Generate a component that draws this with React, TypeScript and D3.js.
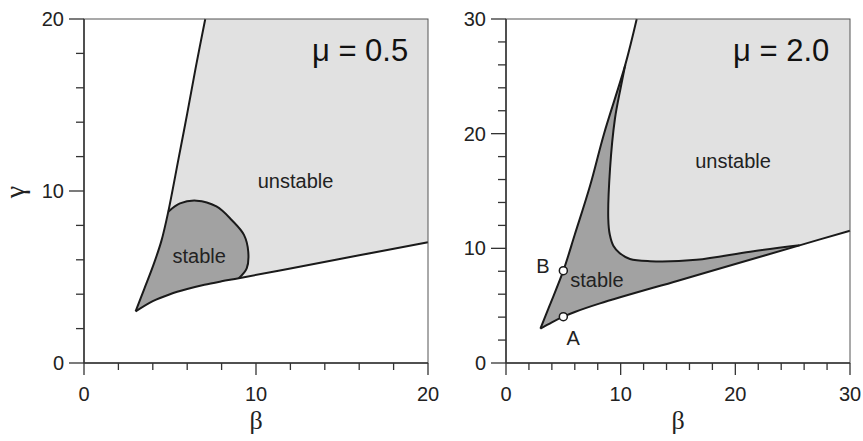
import React from 'react';
import * as d3 from 'd3';

type Pt = [number, number];

// left panel (mu = 0.5)
const leftEdgeLow: Pt[] = [[3, 3], [3.5, 4.3], [4, 5.6], [4.5, 7.1], [4.9, 8.8]];
const leftEdgeHigh: Pt[] = [[4.9, 8.8], [5.5, 11.9], [6, 14.5], [6.5, 17.2], [7.05, 20]];
const leftBottomLow: Pt[] = [[3, 3], [4, 3.6], [5, 4.0], [6, 4.3], [7, 4.55], [8, 4.75], [9.0, 4.93]];
const leftBottomHigh: Pt[] = [[9.0, 4.93], [12, 5.5], [16, 6.26], [20, 7.02]];
const leftLobe: Pt[] = [[4.9, 8.8], [5.58, 9.28], [6.55, 9.44], [7.7, 9.1], [8.6, 8.3], [9.3, 7.45], [9.55, 6.47], [9.46, 5.5], [9.0, 4.93]];

// right panel (mu = 2.0)
const rightEdgeLow: Pt[] = [[3, 3], [3.8, 5], [5, 8.05], [6, 11.2], [7.33, 15.46], [8.55, 20], [10.4, 26]];
const rightEdgeHigh: Pt[] = [[10.4, 26], [11.4, 30]];
const rightBottomLow: Pt[] = [[3, 3], [4, 3.55], [5, 4.04], [6, 4.45], [8.2, 5.2], [15, 7.18], [20, 8.63], [25.6, 10.26]];
const rightBottomHigh: Pt[] = [[25.6, 10.26], [30, 11.54]];
const rightInner: Pt[] = [[10.4, 26], [10.0, 24], [9.5, 21.3], [9.07, 16.9], [8.92, 12.56], [9.05, 11.2], [9.36, 10.23], [9.9, 9.6], [10.81, 9.07], [12.56, 8.88], [16.6, 9.0], [21.3, 9.71], [25.6, 10.26]];
const rightMarkers = [
  { name: 'B', p: [5, 8.05] as Pt },
  { name: 'A', p: [5, 4.04] as Pt },
];

const leftMajor = [0, 10, 20];
const rightMajor = [0, 10, 20, 30];

const LIGHT = '#e1e1e1';
const DARK = '#a2a2a2';
const INK = '#1a1a1a';
const SANS = "'Liberation Sans', Arial, Helvetica, sans-serif";
const SERIF = "'Liberation Serif', 'Times New Roman', serif";

function Panel({ left, max, major, children }: any) {
  const size = 344;
  const top = 19;
  const x = d3.scaleLinear().domain([0, max]).range([left, left + size]);
  const y = d3.scaleLinear().domain([0, max]).range([top + size, top]);
  const line = d3.line<Pt>().x(d => x(d[0])).y(d => y(d[1])).curve(d3.curveCatmullRom.alpha(0.5));
  const lin = d3.line<Pt>().x(d => x(d[0])).y(d => y(d[1]));
  // join smooth curve pieces and straight corner pieces into one closed shape
  const shape = (segs: any[]) =>
    segs.map((s, i) => {
      const d = Array.isArray(s) ? line(s)! : lin(s.corner)!;
      return i === 0 ? d : 'L' + d.slice(1);
    }).join('') + 'Z';
  const minor = d3.range(0, max + 0.001, 2);
  return (
    <g>
      {children({ x, y, line, shape })}
      <rect x={left} y={top} width={size} height={size} fill="none" stroke="#555" strokeWidth={1} />
      {/* y axis */}
      <line x1={left} x2={left} y1={top} y2={top + size} stroke="#333" strokeWidth={1.5} />
      {minor.map(t => (
        <line key={'ym' + t} x1={left - (major.includes(t) ? 15 : 8)} x2={left} y1={y(t)} y2={y(t)} stroke="#333" strokeWidth={1.3} />
      ))}
      {major.map((t: number) => (
        <text key={'yl' + t} x={left - 20} y={y(t) + 7} textAnchor="end" fontFamily={SANS} fontSize={20} fill="#222">{t}</text>
      ))}
      {/* x axis */}
      <line x1={left} x2={left + size} y1={top + size} y2={top + size} stroke="#333" strokeWidth={1.5} />
      {minor.map(t => (
        <line key={'xm' + t} x1={x(t)} x2={x(t)} y1={top + size} y2={top + size + (major.includes(t) ? 12 : 7)} stroke="#333" strokeWidth={1.3} />
      ))}
      {major.map((t: number) => (
        <text key={'xl' + t} x={x(t)} y={401} textAnchor="middle" fontFamily={SANS} fontSize={20} fill="#222">{t}</text>
      ))}
      <text x={left + size / 2} y={429} textAnchor="middle" fontFamily={SERIF} fontSize={26} fill="#222">β</text>
    </g>
  );
}

export default function App() {
  return (
    <svg width={863} height={441} style={{ position: 'absolute', left: 0, top: 0, background: '#fff' }}>
      <Panel left={84} max={20} major={leftMajor}>
        {({ x, y, line, shape }: any) => (
          <g>
            <path d={shape([leftEdgeLow, leftEdgeHigh, { corner: [[7.05, 20], [20, 20], [20, 7.02]] }, leftBottomHigh.slice().reverse(), leftBottomLow.slice().reverse()])} fill={LIGHT} />
            <path d={shape([leftEdgeLow, leftLobe, leftBottomLow.slice().reverse()])} fill={DARK} />
            <path d={line([...leftEdgeLow, ...leftEdgeHigh.slice(1)])} fill="none" stroke={INK} strokeWidth={2} />
            <path d={line([...leftBottomLow, ...leftBottomHigh.slice(1)])} fill="none" stroke={INK} strokeWidth={2} />
            <path d={line(leftLobe)} fill="none" stroke={INK} strokeWidth={2} />
            <text x={x(12.3)} y={y(10.2)} textAnchor="middle" fontFamily={SANS} fontSize={20} fill="#222">unstable</text>
            <text x={x(6.7)} y={y(5.8)} textAnchor="middle" fontFamily={SANS} fontSize={20} fill="#222">stable</text>
            <text x={x(18.85)} y={y(17.55)} textAnchor="end" fontFamily={SANS} fontSize={31} fill="#111">μ = 0.5</text>
          </g>
        )}
      </Panel>
      <Panel left={506} max={30} major={rightMajor}>
        {({ x, y, line, shape }: any) => (
          <g>
            <path d={shape([{ corner: rightEdgeHigh }, { corner: [[11.4, 30], [30, 30], [30, 11.54]] }, { corner: rightBottomHigh.slice().reverse() }, rightInner.slice().reverse()])} fill={LIGHT} />
            <path d={shape([rightEdgeLow, rightInner, rightBottomLow.slice().reverse()])} fill={DARK} />
            <path d={line([...rightEdgeLow, ...rightEdgeHigh.slice(1)])} fill="none" stroke={INK} strokeWidth={2} />
            <path d={line([...rightBottomLow, ...rightBottomHigh.slice(1)])} fill="none" stroke={INK} strokeWidth={2} />
            <path d={line(rightInner)} fill="none" stroke={INK} strokeWidth={2} />
            {rightMarkers.map(m => (
              <circle key={m.name} cx={x(m.p[0])} cy={y(m.p[1])} r={4} fill="#fff" stroke={INK} strokeWidth={1.5} />
            ))}
            <text x={x(3.23)} y={y(7.85)} textAnchor="middle" fontFamily={SANS} fontSize={20} fill="#222">B</text>
            <text x={x(5.85)} y={y(1.57)} textAnchor="middle" fontFamily={SANS} fontSize={20} fill="#222">A</text>
            <text x={x(19.8)} y={y(17.0)} textAnchor="middle" fontFamily={SANS} fontSize={20} fill="#222">unstable</text>
            <text x={x(5.6)} y={y(6.63)} textAnchor="start" fontFamily={SANS} fontSize={20} fill="#222">stable</text>
            <text x={x(28.2)} y={y(26.3)} textAnchor="end" fontFamily={SANS} fontSize={31} fill="#111">μ = 2.0</text>
          </g>
        )}
      </Panel>
      <text transform="translate(24,192) rotate(-90)" textAnchor="middle" fontFamily={SERIF} fontSize={28} fill="#222">γ</text>
    </svg>
  );
}
